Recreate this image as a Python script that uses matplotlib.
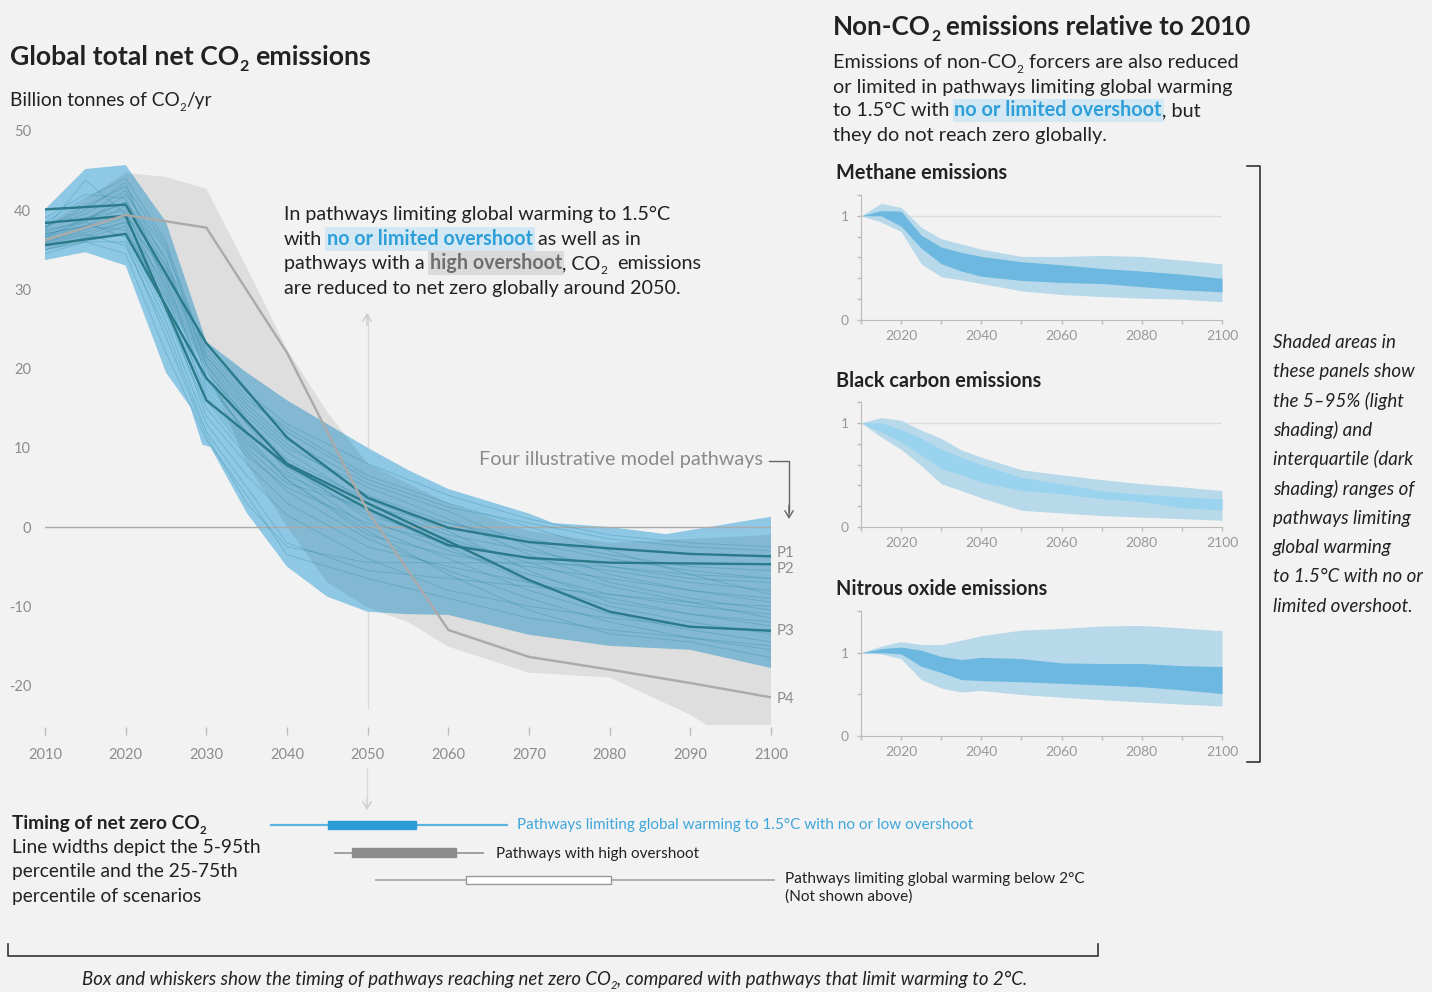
import matplotlib
matplotlib.use('Agg')
import matplotlib.pyplot as plt
from matplotlib.lines import Line2D
from matplotlib.patches import Rectangle, FancyArrowPatch

plt.rcParams['font.family'] = ['Lato', 'DejaVu Sans']
plt.rcParams['axes.unicode_minus'] = False

# ---------------- data ----------------
YEARS = [2010, 2015, 2020, 2025, 2030, 2035, 2040, 2050, 2060, 2070, 2080, 2090, 2100]

# individual 1.5C pathways (faint lines), values at YEARS
PATHWAYS = [
    [37.5, 43.8, 39.5, 33.0, 21.0, 15.0, 10.5, 4.0, 0.5, -2.0, -4.0, -5.5, -6.5],
    [36.8, 38.5, 42.0, 35.0, 22.0, 16.5, 12.0, 6.0, 2.5, 0.5, -1.5, -2.5, -3.0],
    [38.0, 40.0, 43.5, 30.0, 18.0, 12.0, 8.0, 1.0, -3.0, -6.0, -8.5, -10.0, -11.0],
    [35.0, 36.5, 38.0, 28.0, 14.0, 8.0, 3.0, -2.5, -5.0, -7.0, -9.0, -11.0, -12.5],
    [36.0, 37.0, 35.5, 25.0, 12.0, 5.0, -2.0, -5.5, -6.5, -7.5, -8.5, -9.5, -10.0],
    [37.0, 38.0, 40.5, 32.0, 20.0, 13.0, 7.0, 0.0, -4.0, -8.0, -11.0, -13.0, -14.5],
    [36.5, 39.0, 41.0, 34.0, 19.0, 11.5, 6.0, -1.0, -3.5, -5.0, -6.5, -8.0, -9.0],
    [34.5, 36.0, 34.5, 22.0, 11.0, 4.0, -3.5, -6.5, -9.0, -11.5, -13.0, -14.0, -15.0],
    [38.5, 41.5, 44.0, 36.0, 21.5, 16.0, 12.5, 6.5, 3.0, 0.0, -3.0, -6.0, -8.5],
    [37.0, 38.0, 37.5, 28.5, 16.0, 9.5, 4.5, -1.5, -5.5, -9.0, -12.0, -14.0, -15.5],
    [35.5, 36.5, 37.0, 27.0, 15.0, 9.0, 5.0, 0.5, -2.0, -4.0, -5.5, -7.0, -8.0],
    [39.0, 42.0, 41.5, 31.0, 19.5, 14.0, 9.5, 3.0, -1.0, -3.0, -5.0, -6.5, -7.0],
    [36.0, 37.5, 39.0, 29.0, 17.0, 10.5, 6.5, 2.0, -2.5, -7.0, -10.0, -12.0, -13.5],
    [37.5, 38.5, 36.5, 26.0, 13.0, 6.5, 1.5, -4.0, -8.0, -10.0, -11.5, -12.5, -13.0],
    [38.0, 39.5, 42.5, 33.5, 22.5, 17.0, 13.0, 8.0, 4.0, 1.0, -1.0, -2.0, -2.5],
    [36.2, 37.2, 38.5, 30.5, 18.5, 12.0, 7.5, 1.5, -1.5, -4.5, -7.5, -9.5, -11.5],
    [35.0, 36.0, 36.0, 24.0, 11.5, 3.0, -2.5, -4.5, -4.5, -4.5, -5.0, -6.0, -6.5],
    [37.8, 40.5, 43.0, 35.5, 20.5, 14.5, 10.0, 5.0, 1.0, -3.5, -7.0, -9.0, -10.5],
    [36.6, 38.0, 39.5, 31.5, 17.5, 11.0, 6.0, -0.5, -6.0, -10.5, -13.5, -14.5, -16.5],
    [38.3, 39.0, 40.0, 29.5, 16.5, 10.0, 5.5, 2.5, 0.5, -1.5, -3.5, -5.0, -5.5],
    [35.8, 36.8, 38.5, 32.5, 20.5, 13.5, 8.5, 3.5, -0.5, -5.5, -9.5, -11.0, -12.0],
    [37.2, 38.8, 41.0, 33.0, 21.5, 15.5, 11.0, 5.5, 2.0, -2.5, -6.0, -8.0, -9.5],
]

# four illustrative pathways
P_YEARS = [2010, 2020, 2030, 2040, 2050, 2060, 2070, 2080, 2090, 2100]
P1 = [40.1, 40.7, 23.2, 11.3, 3.7, -0.1, -1.9, -2.7, -3.4, -3.7]
P2 = [38.4, 39.3, 16.0, 7.8, 2.3, -2.3, -3.9, -4.5, -4.6, -4.7]
P3 = [35.6, 37.0, 18.8, 8.0, 3.0, -1.8, -6.7, -10.7, -12.6, -13.1]
P4 = [36.2, 39.4, 37.8, 22.0, 2.0, -13.0, -16.4, -18.0, -19.7, -21.5]
P_LABELS = ['P1', 'P2', 'P3', 'P4']

# range of 1.5C no/limited overshoot pathways
BLUE_UP_YEARS = [2010, 2015, 2020, 2025, 2030, 2035, 2040, 2045, 2050, 2055, 2060, 2070, 2073, 2080, 2087, 2100]
BLUE_UP = [40.1, 45.2, 45.7, 38.5, 23.4, 19.5, 16.0, 13.0, 10.0, 7.2, 4.8, 1.7, 0.5, 0.0, -0.9, 1.3]
BLUE_LO_YEARS = [2010, 2015, 2020, 2025, 2028, 2029.5, 2030.5, 2035, 2040, 2045, 2050, 2055, 2060, 2070, 2080, 2090, 2100]
BLUE_LO = [33.7, 34.7, 33.0, 19.5, 15.2, 10.4, 10.1, 1.8, -5.0, -8.8, -10.7, -11.0, -11.1, -13.6, -15.0, -15.5, -17.8]

# range of high overshoot pathways
GREY_UP_YEARS = [2010, 2020, 2025, 2030, 2035, 2040, 2045, 2050, 2060, 2070, 2080, 2090, 2100]
GREY_UP = [38.0, 44.7, 44.2, 42.7, 32.8, 22.4, 14.5, 8.0, 3.0, -0.5, -2.0, -1.5, -1.0]
GREY_LO_YEARS = [2010, 2020, 2030, 2035, 2040, 2045, 2050, 2055, 2060, 2070, 2080, 2090, 2092, 2100]
GREY_LO = [35.0, 37.0, 20.0, 8.0, 0.0, -7.0, -10.2, -12.0, -15.1, -18.4, -19.0, -23.7, -25.0, -25.0]

# non-CO2 emissions relative to 2010 (percentiles)
NC_YEARS = [2010, 2015, 2020, 2025, 2030, 2035, 2040, 2050, 2060, 2070, 2080, 2090, 2100]
CH4_P5 = [1.0, 0.94, 0.85, 0.54, 0.415, 0.385, 0.35, 0.28, 0.245, 0.225, 0.21, 0.20, 0.175]
CH4_P25 = [1.0, 1.0, 0.90, 0.69, 0.54, 0.47, 0.42, 0.38, 0.36, 0.35, 0.32, 0.29, 0.27]
CH4_P75 = [1.0, 1.05, 1.045, 0.815, 0.70, 0.65, 0.61, 0.56, 0.53, 0.495, 0.47, 0.44, 0.40]
CH4_P95 = [1.0, 1.12, 1.08, 0.89, 0.78, 0.73, 0.68, 0.61, 0.61, 0.62, 0.61, 0.575, 0.54]

BC_P5 = [1.0, 0.865, 0.745, 0.59, 0.415, 0.35, 0.28, 0.16, 0.135, 0.11, 0.095, 0.08, 0.065]
BC_P25 = [1.0, 0.915, 0.815, 0.69, 0.56, 0.50, 0.43, 0.35, 0.32, 0.27, 0.245, 0.185, 0.165]
BC_P75 = [1.0, 1.0, 0.935, 0.85, 0.745, 0.67, 0.60, 0.475, 0.415, 0.345, 0.315, 0.29, 0.27]
BC_P95 = [1.0, 1.05, 1.025, 0.93, 0.85, 0.74, 0.67, 0.55, 0.50, 0.455, 0.415, 0.385, 0.35]

N2O_P5 = [1.0, 0.985, 0.926, 0.677, 0.576, 0.528, 0.546, 0.498, 0.465, 0.435, 0.409, 0.383, 0.36]
N2O_P25 = [1.0, 1.0, 0.985, 0.836, 0.762, 0.677, 0.665, 0.651, 0.632, 0.613, 0.591, 0.554, 0.509]
N2O_P75 = [1.0, 1.048, 1.067, 1.03, 0.955, 0.918, 0.944, 0.929, 0.877, 0.87, 0.87, 0.844, 0.833]
N2O_P95 = [1.0, 1.078, 1.134, 1.097, 1.097, 1.149, 1.204, 1.271, 1.29, 1.32, 1.327, 1.297, 1.264]

# timing of net zero CO2 (years)
TIMING_WHISKER = [(2038.0, 2067.3), (2046.0, 2064.3), (2051.0, 2100.4)]
TIMING_BOX = [(2045.1, 2056.0), (2048.0, 2061.0), (2062.2, 2080.2)]

# ---------------- figure helpers ----------------
W, H = 1432, 992
BG = '#F2F2F2'
DARK = '#222222'
TICKC = '#8C8C8C'
BODY = 14.2
fig = plt.figure(figsize=(W / 100, H / 100), dpi=100, facecolor=BG)
renderer = fig.canvas.get_renderer()


def fx(x):
    return x / W


def fy(y):
    return 1 - y / H


def add_ax(left, top, right, bottom):
    a = fig.add_axes([left / W, 1 - bottom / H, (right - left) / W, (bottom - top) / H])
    a.patch.set_visible(False)
    return a


_space = {}


def space_w(size, weight, style):
    key = (size, weight, style)
    if key not in _space:
        t1 = fig.text(0, 0, 'x x', fontsize=size, weight=weight, style=style)
        t2 = fig.text(0, 0, 'xx', fontsize=size, weight=weight, style=style)
        _space[key] = t1.get_window_extent(renderer).width - t2.get_window_extent(renderer).width
        t1.remove()
        t2.remove()
    return _space[key]


def rich(x, y, pieces, size, **base):
    """draw a line of mixed-style text, x/y = left/baseline in pixels from top-left"""
    cur = x
    for piece in pieces:
        txt = piece[0]
        o = dict(base)
        if len(piece) > 1:
            o.update(piece[1])
        sub = o.pop('sub', False)
        fs = size * 0.6 if sub else size
        dy = size * 1.389 * 0.24 if sub else 0
        o.setdefault('color', DARK)
        weight = o.get('weight', 'normal')
        style = o.get('style', 'normal')
        sp = space_w(fs, weight, style)
        lead = len(txt) - len(txt.lstrip(' '))
        trail = len(txt) - len(txt.rstrip(' '))
        cur += lead * sp
        t = fig.text(fx(cur), fy(y + dy), txt.strip(' '), fontsize=fs, va='baseline', ha='left', **o)
        cur = t.get_window_extent(renderer).x1 + trail * sp
    return cur


def fline(xs, ys, **kw):
    fig.add_artist(Line2D([fx(v) for v in xs], [fy(v) for v in ys], transform=fig.transFigure, **kw))


def farrow(x0, y0, x1, y1, color, lw=1.0):
    fig.add_artist(FancyArrowPatch(
        (fx(x0), fy(y0)), (fx(x1), fy(y1)), transform=fig.transFigure,
        arrowstyle='->,head_length=5,head_width=3', color=color, lw=lw,
        mutation_scale=1, shrinkA=0, shrinkB=0))


# ---------------- main CO2 panel ----------------
ax = add_ax(45, 131, 771, 727.4)
ax.set_xlim(2010, 2100)
ax.set_ylim(-25.3, 50)
for s in ax.spines.values():
    s.set_visible(False)
ax.set_xticks(range(2010, 2101, 10))
ax.set_yticks(range(-20, 51, 10))
ax.tick_params(axis='x', length=6, width=1, color='#BBBBBB', labelcolor=TICKC, labelsize=10.5, pad=8.5)
ax.tick_params(axis='y', length=0, labelcolor=TICKC, labelsize=10.5, pad=10)

ax.plot([2050, 2050], [26.8, -22.8], color='#DADADA', lw=1, zorder=0.5)

ax.fill(GREY_UP_YEARS + GREY_LO_YEARS[::-1], GREY_UP + GREY_LO[::-1], color='#DEDEDE', lw=0, zorder=1)
blue = ax.fill(BLUE_UP_YEARS + BLUE_LO_YEARS[::-1], BLUE_UP + BLUE_LO[::-1], color='#8EC8E4', lw=0, zorder=2)[0]
over = ax.fill(GREY_UP_YEARS + GREY_LO_YEARS[::-1], GREY_UP + GREY_LO[::-1], color='black', alpha=0.08, lw=0, zorder=2.1)[0]
over.set_clip_path(blue)

ax.plot([2010, 2100], [0, 0], color='#AAAAAA', lw=1, zorder=2.5)

for path in PATHWAYS:
    ax.plot(YEARS, path, color='#2B86A5', alpha=0.3, lw=0.7, zorder=3)

for vals in (P1, P2, P3):
    ax.plot(P_YEARS, vals, color='#2A7A8A', lw=1.7, zorder=4)
ax.plot(P_YEARS, P4, color='#AAAAAA', lw=1.7, zorder=4)

for lab, yy in zip(P_LABELS, [557, 573, 635, 703]):
    fig.text(fx(777), fy(yy), lab, fontsize=10.8, color=TICKC, va='baseline')

# arrows on the 2050 guide
farrow(367, 325, 367, 313, '#CCCCCC')
fline([367, 367], [768, 802], color='#DADADA', lw=1)
farrow(367, 798, 367, 810, '#CCCCCC')

# "Four illustrative model pathways"
fig.text(fx(763), fy(465), 'Four illustrative model pathways', fontsize=14.3, color='#8A8A8A', ha='right', va='baseline')
fline([769, 789, 789], [461, 461, 512], color='#666666', lw=1)
farrow(789, 505, 789, 519, '#666666')

# titles and annotation
rich(10, 65, [('Global total net CO',), ('2', {'sub': True}), (' emissions',)], 19.2, weight='bold')
rich(10, 106, [('Billion tonnes of CO',), ('2', {'sub': True}), ('/yr',)], 13.8)

HL_BLUE = dict(weight='bold', color='#2E9FD9', bbox=dict(boxstyle='square,pad=0.1', fc='#D3E8F3', ec='none'))
HL_GREY = dict(weight='bold', color='#6E6E6E', bbox=dict(boxstyle='square,pad=0.1', fc='#DADADA', ec='none'))

rich(284, 220, [('In pathways limiting global warming to 1.5°C',)], BODY)
rich(284, 245, [('with ',), ('no or limited overshoot', HL_BLUE), (' as well as in',)], BODY)
rich(284, 269, [('pathways with a ',), ('high overshoot', HL_GREY), (', CO',), ('2', {'sub': True}), ('  emissions',)], BODY)
rich(284, 294, [('are reduced to net zero globally around 2050.',)], BODY)

# ---------------- non-CO2 panels ----------------
rich(833, 35, [('Non-CO',), ('2', {'sub': True}), (' emissions relative to 2010',)], 18.7, weight='bold')
rich(833, 68, [('Emissions of non-CO',), ('2', {'sub': True}), (' forcers are also reduced',)], 14.3)
rich(833, 92.5, [('or limited in pathways limiting global warming',)], 14.3)
rich(833, 116.5, [('to 1.5°C with ',), ('no or limited overshoot', HL_BLUE), (', but',)], 14.3)
rich(833, 140.5, [('they do not reach zero globally.',)], 14.3)

PANELS = [
    ('Methane emissions', 179, 195, 320, 1.2, 0.2, CH4_P5, CH4_P25, CH4_P75, CH4_P95, '#6DB8E0'),
    ('Black carbon emissions', 387, 402, 527, 1.2, 0.2, BC_P5, BC_P25, BC_P75, BC_P95, '#9AD3EE'),
    ('Nitrous oxide emissions', 595, 611, 736, 1.4, 0.5, N2O_P5, N2O_P25, N2O_P75, N2O_P95, '#6DB8E0'),
]
for title, ty, top, bottom, ymax, step, p5, p25, p75, p95, dark in PANELS:
    rich(836, ty, [(title,)], 14.3, weight='bold')
    a = add_ax(861, top, 1222, bottom)
    a.set_xlim(2010, 2100)
    a.set_ylim(0, ymax)
    a.spines['top'].set_visible(False)
    a.spines['right'].set_visible(False)
    a.spines['left'].set_color('#BBBBBB')
    a.spines['bottom'].set_color('#BBBBBB')
    xt = list(range(2010, 2101, 10))
    a.set_xticks(xt)
    a.set_xticklabels(['' if v % 20 else str(v) for v in xt])
    yt = [round(i * step, 2) for i in range(int(round(ymax / step)) + 1)]
    a.set_yticks(yt)
    a.set_yticklabels([{0: '0', 1: '1'}.get(v, '') for v in yt])
    a.tick_params(length=3, width=1, color='#BBBBBB', labelcolor='#999999', labelsize=10, pad=4.5)
    a.tick_params(axis='y', pad=6)
    a.plot([2010, 2100], [1, 1], color='#DDDDDD', lw=1, zorder=0)
    a.fill_between(NC_YEARS, p5, p95, color='#B7D9EA', lw=0, zorder=1)
    a.fill_between(NC_YEARS, p25, p75, color=dark, lw=0, zorder=2)

# bracket on the right + note
fline([1247, 1260, 1260, 1247], [166, 166, 762, 762], color='#333333', lw=1.2)
NOTE = ['Shaded areas in', 'these panels show', 'the 5–95% (light', 'shading) and',
        'interquartile (dark', 'shading) ranges of', 'pathways limiting', 'global warming',
        'to 1.5°C with no or', 'limited overshoot.']
for i, line in enumerate(NOTE):
    fig.text(fx(1273), fy(348 + i * 29.3), line, fontsize=13.5, style='italic', color=DARK, va='baseline')

# ---------------- timing of net zero ----------------
rich(12, 829, [('Timing of net zero CO',), ('2', {'sub': True})], 13.8, weight='bold')
for i, line in enumerate(['Line widths depict the 5-95th', 'percentile and the 25-75th', 'percentile of scenarios']):
    fig.text(fx(12), fy(853 + i * 24.4), line, fontsize=13.8, color=DARK, va='baseline')

at = add_ax(45, 811.25, 771, 893.75)
at.set_xlim(2010, 2100)
at.set_ylim(3.5, 0.5)
at.axis('off')
ROW_STYLE = [('#5BB3E0', 1.6, '#2A9BD6', '#2A9BD6'),
             ('#999999', 1.3, '#8C8C8C', '#8C8C8C'),
             ('#AAAAAA', 1.3, 'white', '#999999')]
for i, ((w0, w1), (b0, b1), (wc, wlw, bfc, bec)) in enumerate(zip(TIMING_WHISKER, TIMING_BOX, ROW_STYLE)):
    row = i + 1
    at.plot([w0, w1], [row, row], color=wc, lw=wlw, zorder=1, clip_on=False)
    at.add_patch(Rectangle((b0, row - 0.15), b1 - b0, 0.3, fc=bfc, ec=bec, lw=1, zorder=2, clip_on=False))

fig.text(fx(517), fy(829), 'Pathways limiting global warming to 1.5°C with no or low overshoot',
         fontsize=11, color='#3EA6DB', va='baseline')
fig.text(fx(496), fy(858), 'Pathways with high overshoot', fontsize=11, color=DARK, va='baseline')
fig.text(fx(785), fy(883), 'Pathways limiting global warming below 2°C', fontsize=11.1, color=DARK, va='baseline')
fig.text(fx(785), fy(901), '(Not shown above)', fontsize=11.1, color=DARK, va='baseline')

# bottom bracket + caption
fline([8, 8, 1098, 1098], [944, 956, 956, 944], color='#333333', lw=1.2)
rich(82, 985, [('Box and whiskers show the timing of pathways reaching net zero CO',), ('2', {'sub': True}),
               (', compared with pathways that limit warming to 2°C.',)], 13.4, style='italic')

fig.savefig('out.png', dpi=100, facecolor=BG)
